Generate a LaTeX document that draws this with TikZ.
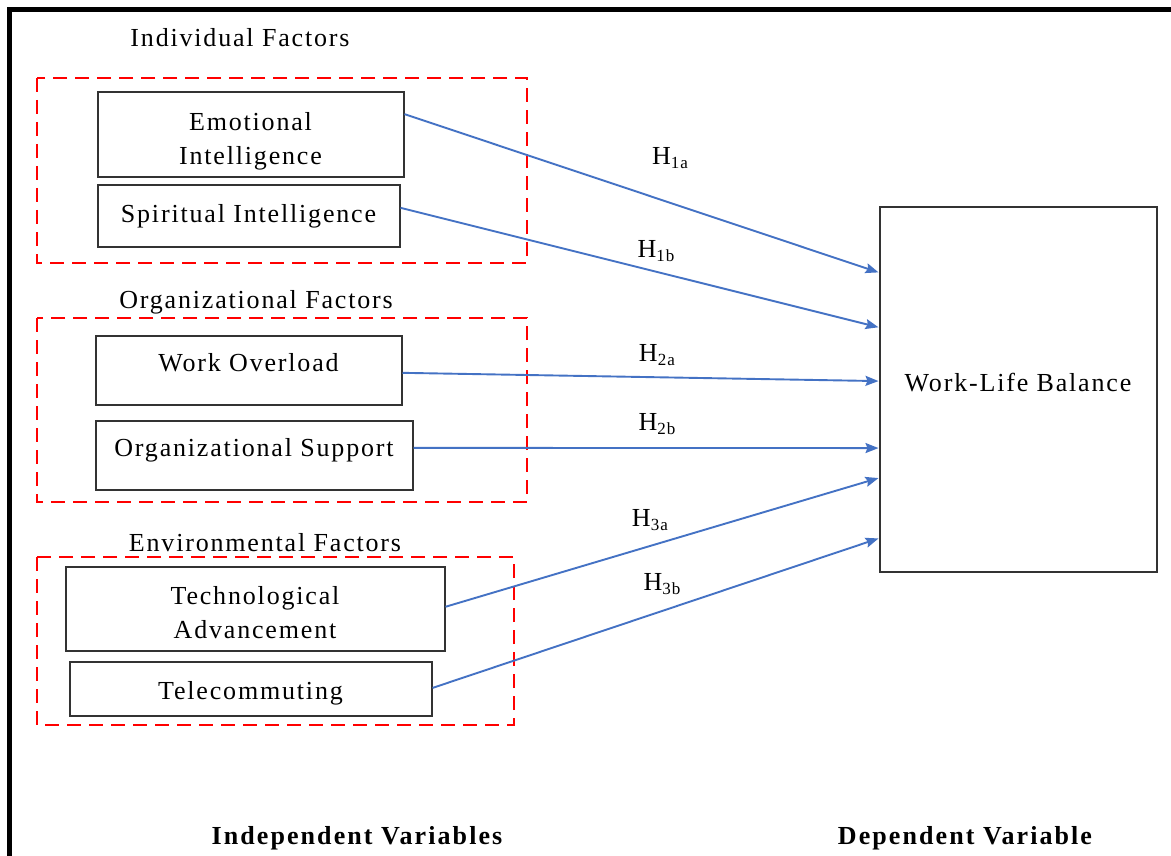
\documentclass[tikz,border=0pt]{standalone}
\usepackage{fontspec}
\setmainfont{Liberation Serif}[LetterSpace=7]
\usetikzlibrary{calc}
\usetikzlibrary{arrows.meta}
\definecolor{hypblue}{RGB}{68,114,196}
\def\hsub#1{H\raisebox{-.4ex}{\fontsize{17}{17}\selectfont #1}}

\begin{document}
\begin{tikzpicture}[x=1pt,y=-1pt,font=\fontsize{26}{34}\selectfont,
	var/.style={draw=black!80,line width=2pt,align=center,inner sep=0pt},
	group/.style={draw=red,line width=2.4pt,dash pattern=on 14pt off 8pt},
	hyp/.style={draw=hypblue,line width=1.9pt,-{Stealth[length=13pt,width=10pt,inset=2pt]}}]
	\useasboundingbox (0,0) rectangle (1171,856);
	\draw[line width=5pt] (7,10) -- (1171,10);
	\draw[line width=5pt] (9.5,8) -- (9.5,856);
	
	%GROUPS
	\draw[group] (37,78) rectangle (527,263);
	\draw[group] (37,318) rectangle (527,502);
	\draw[group] (37,557) rectangle (514,725);
	\node (indiv) at (240,38) {Individual Factors};
	\node (org) at (256,302) {Organizational Factors};
	\node (env) at (265,543) {Environmental Factors};
	
	%INDEPENDENT VARIABLES
	\node[var,minimum width=306pt,minimum height=85pt,text height=65pt] (emo) at (250.5,135) {Emotional\\Intelligence};
	\node[var,minimum width=302pt,minimum height=61pt] (spi) at (248.5,216) {Spiritual Intelligence};
	\node[var,minimum width=306pt,minimum height=69pt,text depth=16pt] (wol) at (248.5,370) {Work Overload};
	\node[var,minimum width=317pt,minimum height=69pt,text depth=16pt] (sup) at (254,455) {Organizational Support};
	\node[var,minimum width=379pt,minimum height=84pt,text height=61pt] (tec) at (255,608.5) {Technological\\Advancement};
	\node[var,minimum width=362pt,minimum height=54pt,text height=27pt] (tel) at (250.5,688.5) {Telecommuting};
	
	%DEPENDENT VARIABLE
	\node[var,minimum width=277pt,minimum height=364pt,text depth=15pt] (wlb) at (1018,389.5) {Work-Life Balance};
	
	%HYPOTHESES
	\foreach \s/\a/\f in {emo/0.26/0.18,spi/0.37/0.33,wol/0.54/0.477,sup/0.4/0.66,tec/0.48/0.742,tel/0.49/0.907}{
		\draw[hyp] ($(\s.north east)!\a!(\s.south east)$) -- ($(wlb.north west)!\f!(wlb.south west)$);
	}
	\node (h1a) at (670,158) {\hsub{1a}};
	\node (h1b) at (656,251) {\hsub{1b}};
	\node (h2a) at (657,355) {\hsub{2a}};
	\node (h2b) at (657,424) {\hsub{2b}};
	\node (h3a) at (650,520) {\hsub{3a}};
	\node (h3b) at (662,584) {\hsub{3b}};
	
	\node[font=\fontsize{26}{30}\selectfont\bfseries\addfontfeatures{LetterSpace=8}] (indep) at (357,838) {Independent Variables};
	\node[font=\fontsize{26}{30}\selectfont\bfseries\addfontfeatures{LetterSpace=8}] (dep) at (965,838) {Dependent Variable};
\end{tikzpicture}
\end{document}
